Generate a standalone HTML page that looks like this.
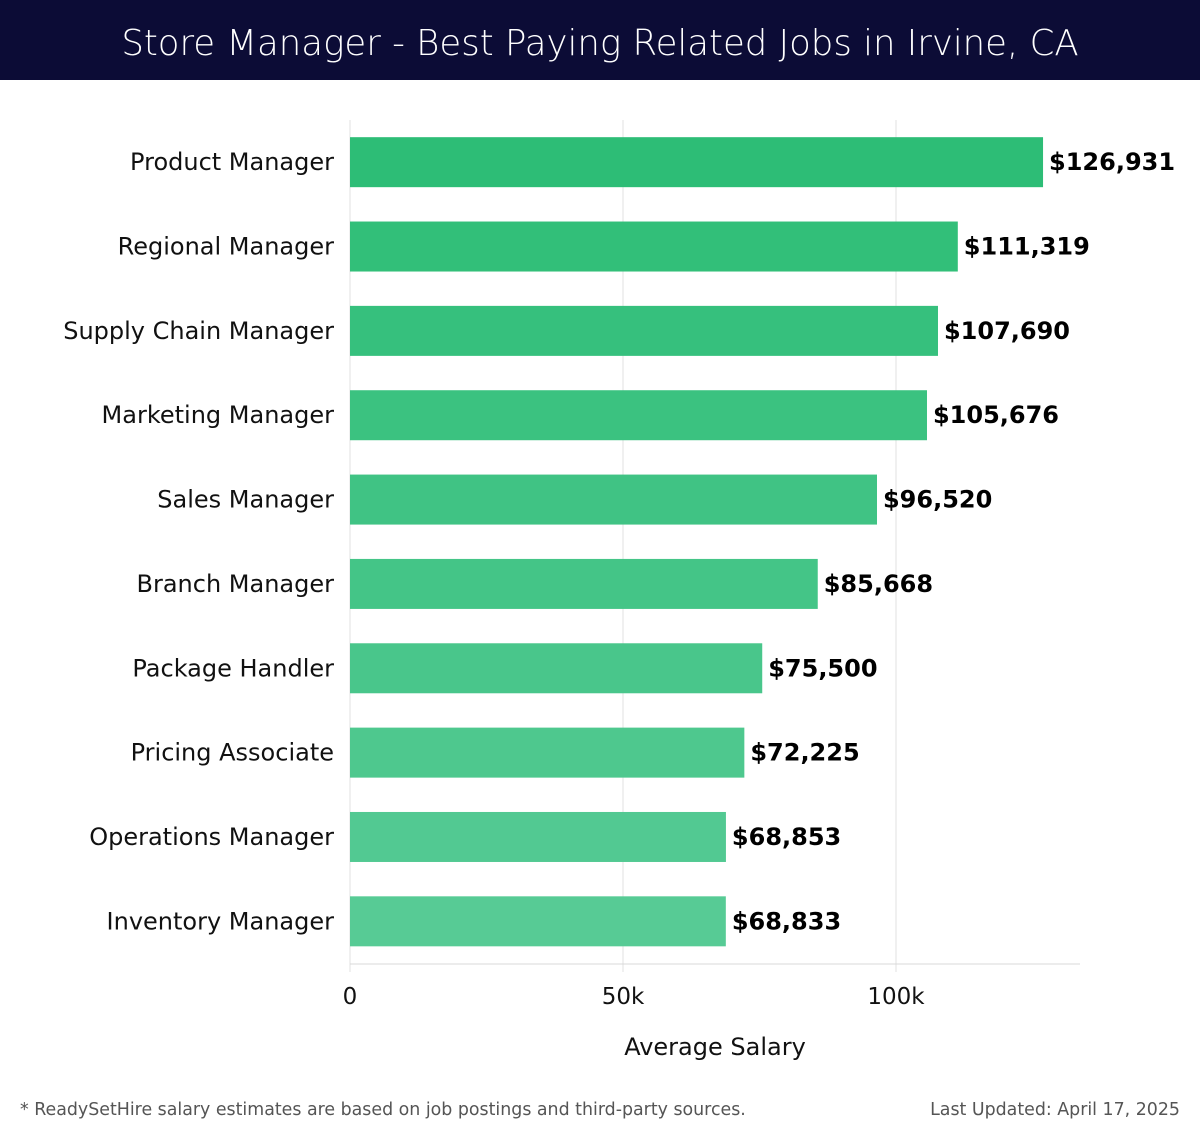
<!DOCTYPE html>
<html><head><meta charset="utf-8"><style>
body{margin:0;width:1200px;height:1140px;background:#fff;font-family:"DejaVu Sans","Liberation Sans",sans-serif;overflow:hidden}
#title{position:absolute;left:0;top:0;width:1200px;height:80px;background:#0c0c36;color:#fff;font-size:35.5px;text-align:center;line-height:88px;font-family:"DejaVu Sans","Liberation Sans",sans-serif;font-weight:300}
.foot{position:absolute;top:1100px;font-size:17.4px;color:#555}
</style></head><body>
<div id="title">Store Manager - Best Paying Related Jobs in Irvine, CA</div>
<svg id="chart" width="1200" height="1140" style="position:absolute;left:0;top:0;font-family:'DejaVu Sans','Liberation Sans',sans-serif"></svg>
<div class="foot" style="left:20px">* ReadySetHire salary estimates are based on job postings and third-party sources.</div>
<div class="foot" style="right:20px">Last Updated: April 17, 2025</div>
<script>
const categories=["Product Manager","Regional Manager","Supply Chain Manager","Marketing Manager","Sales Manager","Branch Manager","Package Handler","Pricing Associate","Operations Manager","Inventory Manager"];
const salaries=[126931,111319,107690,105676,96520,85668,75500,72225,68853,68833];
const valueLabels=["$126,931","$111,319","$107,690","$105,676","$96,520","$85,668","$75,500","$72,225","$68,853","$68,833"];
const tickValues=[0,50000,100000];
const tickLabels=["0","50k","100k"];
const NS="http://www.w3.org/2000/svg";
const svg=document.getElementById('chart');
const x0=350,pxPer=(896-350)/100000,top0=120,band=84.35,barH=50,plotRight=1080,plotBottom=964;
const x=v=>x0+v*pxPer;
const yc=i=>top0+band*(i+0.5);
function mk(t,a){const e=document.createElementNS(NS,t);for(const k in a)e.setAttribute(k,a[k]);svg.appendChild(e);return e;}
tickValues.forEach((v,i)=>{
 const g=mk('line',{x1:x(v),x2:x(v),y1:top0,y2:plotBottom+8,stroke:'#e0e0e0','stroke-width':1});
 
 
 const t=mk('text',{x:x(v),y:1004,'text-anchor':'middle','font-size':23,fill:'#111'});
 t.textContent=tickLabels[i];
 
 
});
const ax=mk('line',{x1:x0,x2:plotRight,y1:plotBottom,y2:plotBottom,stroke:'#d8d8d8','stroke-width':1});


const n=categories.length;
categories.forEach((c,i)=>{
 const f=i/(n-1);
 const col=`rgb(${Math.round(45+f*42)},${Math.round(189+f*14)},${Math.round(118+f*31)})`;
 const r=mk('rect',{x:x0,y:yc(i)-barH/2,width:x(salaries[i])-x0,height:barH,fill:col});
 
 
 const l=mk('text',{x:334,y:yc(i)+8,'text-anchor':'end','font-size':24,fill:'#111'});
 l.textContent=c;
 
 
 const v=mk('text',{x:x(salaries[i])+6,y:yc(i)+8,'font-size':24,'font-weight':'bold',fill:'#000'});
 v.textContent=valueLabels[i];
 
 
});
const at=mk('text',{x:715,y:1055,'text-anchor':'middle','font-size':24,fill:'#111'});
at.textContent="Average Salary";


</script>
</body></html>
